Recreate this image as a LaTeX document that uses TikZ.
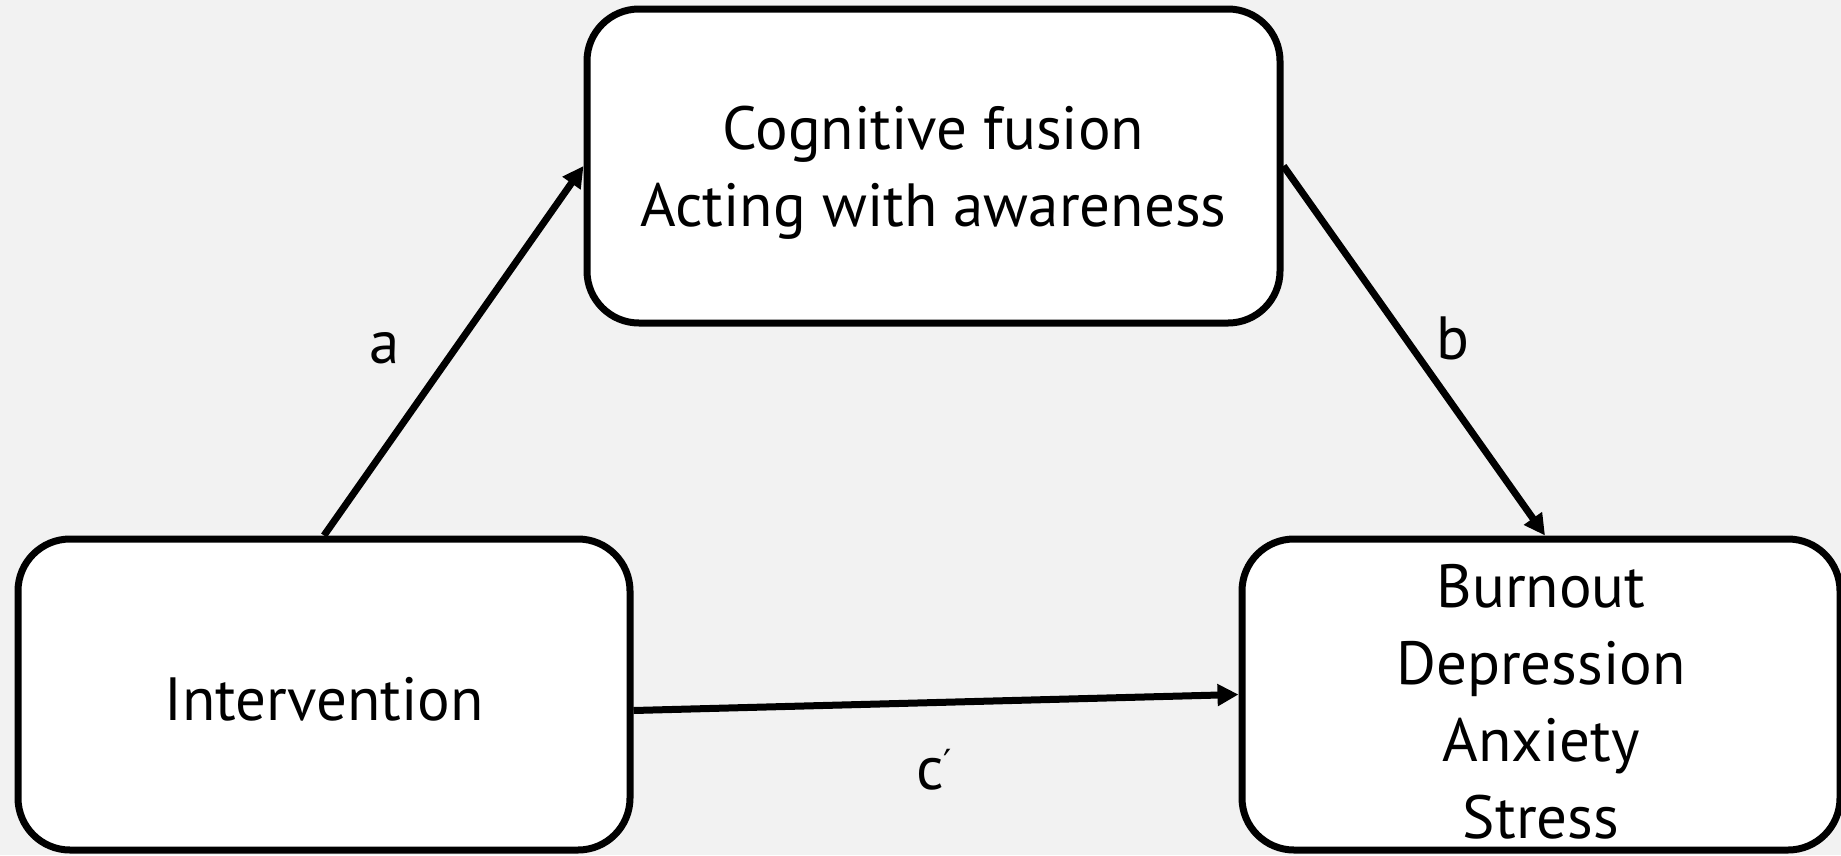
\documentclass[tikz,border=0pt]{standalone}
\usepackage{fontspec}
\setmainfont{PT Sans}
\newfontfamily\symfont{DejaVu Sans}
\usetikzlibrary{arrows.meta}
\definecolor{bg}{HTML}{F2F2F2}
\newcommand{\lowered}[2]{\raisebox{-#1}[\height][\depth]{#2}}
\tikzset{
  box/.style={draw=black, fill=white, line width=7pt, rounded corners=52pt,
    align=center, inner sep=0pt, font=\fontsize{61}{77}\selectfont},
  conn/.style={line width=7pt, -{Triangle[length=21pt,width=21pt]}},
  lbl/.style={font=\fontsize{61}{77}\selectfont, inner sep=0pt}
}
\begin{document}
\begin{tikzpicture}[x=1pt,y=-1pt]
  \fill[bg] (0,0) rectangle (1841,855);
  \useasboundingbox (0,0) rectangle (1841,855);
  \node[box, minimum width=693pt, minimum height=314pt] (cog) at (933.5,166)
    {\lowered{7pt}{\parbox{600pt}{\centering Cognitive fusion\\Acting with awareness}}};
  \node[box, minimum width=612pt, minimum height=311pt] (int) at (324,694.5)
    {\lowered{5pt}{Intervention}};
  \node[box, minimum width=598pt, minimum height=311pt] (out) at (1541,694.5)
    {\lowered{7pt}{\parbox{560pt}{\centering Burnout\\Depression\\Anxiety\\Stress}}};
  \draw[conn] (int.north) -- (cog.west);
  \draw[conn] (cog.east) -- ([xshift=4pt]out.north);
  \draw[conn] ([yshift=-16pt]int.east) -- (out.west);
  \node[lbl] (la) at (385,348) {a};
  \node[lbl] (lb) at (1453,338) {b};
  \node[lbl] (lc) at (934,770) {c\raisebox{14pt}{\symfont\fontsize{36}{36}\selectfont ′}};
\end{tikzpicture}
\end{document}
